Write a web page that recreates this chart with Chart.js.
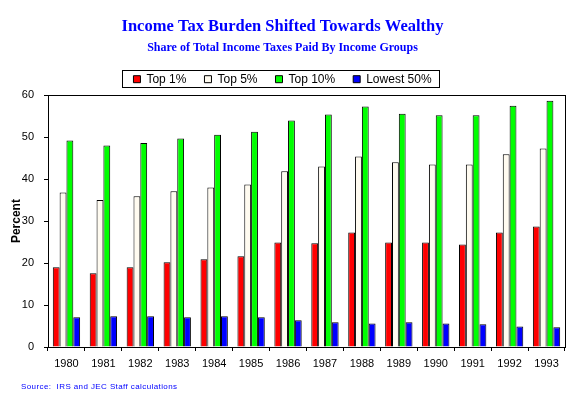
<!DOCTYPE html>
<html>
<head>
<meta charset="utf-8">
<script src="https://cdn.jsdelivr.net/npm/chart.js@4"></script>
<style>
  body { margin: 0; background: #fff; }
  #wrap { width: 580px; height: 397px; }
</style>
</head>
<body>
<div id="wrap"><canvas id="chart" width="580" height="397"></canvas></div>
<script>
const years = ["1980", "1981", "1982", "1983", "1984", "1985", "1986", "1987", "1988", "1989", "1990", "1991", "1992", "1993"];
const top1 = [19.0, 17.6, 19.0, 20.2, 20.9, 21.6, 24.9, 24.7, 27.3, 24.9, 24.9, 24.4, 27.3, 28.7];
const top5 = [36.8, 35.0, 35.9, 37.1, 38.0, 38.7, 41.9, 43.0, 45.4, 44.0, 43.5, 43.5, 45.9, 47.3];
const top10 = [49.2, 48.0, 48.6, 49.7, 50.6, 51.3, 54.0, 55.4, 57.3, 55.6, 55.2, 55.2, 57.5, 58.7];
const lowest50 = [7.1, 7.3, 7.3, 7.1, 7.3, 7.1, 6.4, 5.9, 5.6, 5.9, 5.6, 5.4, 4.9, 4.7];
const seriesNames = ["Top 1%", "Top 5%", "Top 10%", "Lowest 50%"];
const yTicks = [0, 10, 20, 30, 40, 50, 60];

// box round the plot and the legend, plus the source line
const extras = {
  id: "extras",
  afterDraw(chart) {
    const ctx = chart.ctx;
    const a = chart.chartArea;
    ctx.save();
    ctx.strokeStyle = "#000";
    ctx.lineWidth = 1;
    ctx.strokeRect(Math.round(a.left) + 0.5, Math.round(a.top) + 0.5, Math.round(a.right - a.left), Math.round(a.bottom - a.top));
    const boxes = chart.legend.legendHitBoxes;
    if (boxes && boxes.length) {
      const l = boxes[0].left - 11;
      const r = boxes[boxes.length - 1].left + boxes[boxes.length - 1].width + 8;
      const t = boxes[0].top - 3;
      const b = boxes[0].top + boxes[0].height + 2;
      ctx.strokeRect(Math.round(l) + 0.5, Math.round(t) + 0.5, Math.round(r - l), Math.round(b - t));
    }
    ctx.fillStyle = "#0000ff";
    ctx.font = "8px Arial, 'Liberation Sans'";
    ctx.letterSpacing = "0.4px";
    ctx.textBaseline = "middle";
    ctx.fillText("Source:  IRS and JEC Staff calculations", 21, 387);
    ctx.restore();
  }
};

const mk = (label, data, color) => ({
  label: label,
  data: data,
  backgroundColor: color,
  borderColor: "#000",
  borderWidth: 1,
  categoryPercentage: 0.74,
  barPercentage: 1.0
});

new Chart(document.getElementById("chart"), {
  type: "bar",
  data: {
    labels: years,
    datasets: [
      mk(seriesNames[0], top1, "#ff0000"),
      mk(seriesNames[1], top5, "#fffbf0"),
      mk(seriesNames[2], top10, "#00ff00"),
      mk(seriesNames[3], lowest50, "#0000ff")
    ]
  },
  options: {
    responsive: false,
    animation: false,
    layout: { padding: { left: 0, right: 15, top: 0, bottom: 0 } },
    plugins: {
      title: {
        display: true,
        text: "Income Tax Burden Shifted Towards Wealthy",
        color: "#0000ff",
        font: { family: "'Liberation Serif', 'Times New Roman', serif", size: 16.5, weight: "bold" },
        padding: { top: 17, bottom: 3 }
      },
      subtitle: {
        display: true,
        text: "Share of Total Income Taxes Paid By Income Groups",
        color: "#0000ff",
        font: { family: "'Liberation Serif', 'Times New Roman', serif", size: 12, weight: "bold" },
        padding: { top: 1, bottom: 0 }
      },
      legend: {
        display: true,
        labels: {
          boxWidth: 7,
          boxHeight: 7,
          padding: 18,
          color: "#000",
          font: { family: "Arial, 'Liberation Sans'", size: 12 }
        }
      },
      tooltip: { enabled: false }
    },
    scales: {
      x: {
        afterFit(scale) { scale.height = 50; },
        grid: { display: true, drawOnChartArea: false, drawTicks: true, tickLength: 4, color: "#000", offset: true },
        border: { display: true, color: "#000" },
        ticks: { color: "#000", padding: 6, maxRotation: 0, font: { family: "Arial, 'Liberation Sans'", size: 11 } }
      },
      y: {
        min: 0,
        max: 60,
        afterFit(scale) { scale.width = 48; },
        afterBuildTicks(scale) { scale.ticks = yTicks.map(v => ({ value: v })); },
        grid: { display: true, drawOnChartArea: false, drawTicks: true, tickLength: 4, color: "#000" },
        border: { display: true, color: "#000" },
        ticks: { color: "#000", padding: 10, font: { family: "Arial, 'Liberation Sans'", size: 11 } },
        title: {
          display: true,
          text: "Percent",
          color: "#000",
          padding: { top: 9, bottom: 0 },
          font: { family: "Arial, 'Liberation Sans'", size: 12, weight: "bold" }
        }
      }
    }
  },
  plugins: [extras]
});
</script>
</body>
</html>
